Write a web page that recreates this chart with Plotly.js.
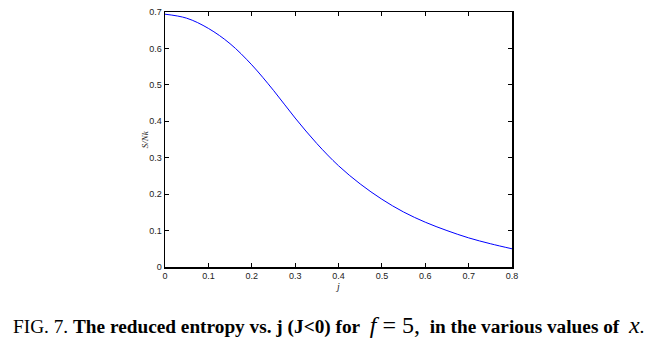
<!DOCTYPE html>
<html>
<head>
<meta charset="utf-8">
<script src="https://cdn.plot.ly/plotly-3.0.1.min.js"></script>
<style>html,body{margin:0;padding:0;background:#fff;}#chart{width:665px;height:351px;}</style>
</head>
<body>
<div id="chart"></div>
<script>
const jValues = [0, 0.05, 0.1, 0.15, 0.2, 0.25, 0.3, 0.35, 0.4, 0.45, 0.5, 0.55, 0.6, 0.65, 0.7, 0.75, 0.8];
const entropy = [0.694, 0.683, 0.655, 0.613, 0.555, 0.485, 0.409, 0.339, 0.278, 0.228, 0.186, 0.151, 0.123, 0.100, 0.080, 0.064, 0.050];
const xTicks = [0, 0.1, 0.2, 0.3, 0.4, 0.5, 0.6, 0.7, 0.8];
const xTickText = ['0', '0.1', '0.2', '0.3', '0.4', '0.5', '0.6', '0.7', '0.8'];
const yTicks = [0, 0.1, 0.2, 0.3, 0.4, 0.5, 0.6, 0.7];
const yTickText = ['0', '0.1', '0.2', '0.3', '0.4', '0.5', '0.6', '0.7'];

const axisCommon = {
  showline: true, linecolor: '#000', linewidth: 1.5, mirror: 'ticks',
  ticks: 'inside', ticklen: 4, tickwidth: 1, tickcolor: '#000',
  showgrid: false, zeroline: false,
  tickfont: {family: 'Liberation Sans, Arial, sans-serif', size: 9, color: '#222'}
};

const trace = {
  x: jValues, y: entropy, type: 'scatter', mode: 'lines',
  line: {color: '#0000ff', width: 1, shape: 'spline', smoothing: 1}, hoverinfo: 'skip'
};

const layout = {
  width: 665, height: 351,
  margin: {l: 165, r: 153, t: 12, b: 84},
  paper_bgcolor: '#fff', plot_bgcolor: '#fff',
  showlegend: false,
  xaxis: Object.assign({}, axisCommon, {
    range: [0, 0.8], tickvals: xTicks, ticktext: xTickText,
    title: {text: '<i>j</i>', standoff: 2, font: {family: 'Liberation Serif, Times New Roman, serif', size: 10, color: '#222'}}
  }),
  yaxis: Object.assign({}, axisCommon, {
    range: [0, 0.7], tickvals: yTicks, ticktext: yTickText
  }),
  annotations: [{
    xref: 'paper', yref: 'paper', x: -0.058, y: 0.5, xanchor: 'center', yanchor: 'middle',
    textangle: -90, showarrow: false,
    font: {family: 'Liberation Serif, Times New Roman, serif', size: 9, color: '#222'},
    text: '<i>S/Nk</i>'
  }, {
    xref: 'paper', yref: 'paper', x: 0.472, y: -0.227, xanchor: 'center', yanchor: 'middle',
    showarrow: false,
    font: {family: 'Liberation Serif, Times New Roman, serif', size: 19.3, color: '#000'},
    text: 'FIG. 7. <b>The reduced entropy vs. j (J&lt;0) for</b>  <span style="font-size:24px"><i>f</i> = 5,</span>  <b>in the various values of</b>  <span style="font-size:24px"><i>x</i></span>.'
  }]
};

Plotly.newPlot('chart', [trace], layout, {staticPlot: true, displayModeBar: false});
</script>
</body>
</html>
